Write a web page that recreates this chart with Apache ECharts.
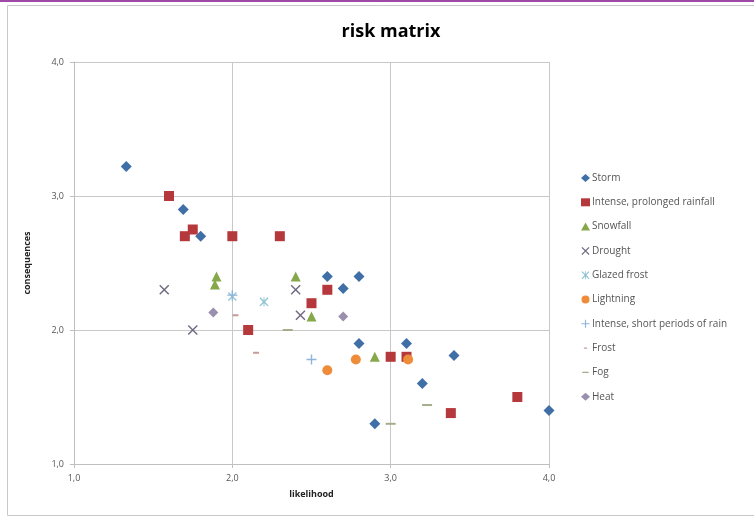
<!DOCTYPE html>
<html><head><meta charset="utf-8">
<script src="https://cdn.jsdelivr.net/npm/echarts@6/dist/echarts.min.js"></script>
<style>html,body{margin:0;padding:0;background:#fff}#c{width:754px;height:524px}</style>
</head><body><div id="c"></div>
<script>
const seriesNames = ['Storm','Intense, prolonged rainfall','Snowfall','Drought','Glazed frost','Lightning','Intense, short periods of rain','Frost','Fog','Heat'];
const storm = [[1.33,3.22],[1.69,2.90],[1.8,2.70],[2.6,2.40],[2.8,2.40],[2.7,2.31],[2.8,1.90],[3.1,1.90],[3.4,1.81],[3.2,1.60],[2.9,1.30],[4.0,1.40]];
const rainfall = [[1.6,3.0],[1.7,2.70],[1.75,2.75],[2.0,2.70],[2.3,2.70],[2.6,2.30],[2.5,2.20],[2.1,2.0],[3.0,1.80],[3.1,1.80],[3.38,1.38],[3.8,1.50]];
const snowfall = [[1.9,2.40],[1.89,2.34],[2.4,2.40],[2.5,2.10],[2.9,1.80]];
const drought = [[1.57,2.30],[1.75,2.0],[2.4,2.30],[2.43,2.11]];
const glazedFrost = [[2.0,2.25],[2.2,2.21]];
const lightning = [[2.6,1.70],[2.78,1.78],[3.11,1.78]];
const intenseShort = [[2.5,1.78],[2.0,2.26]];
const frost = [[2.02,2.11],[2.15,1.83]];
const fog = [[2.35,2.0],[3.23,1.44],[3.0,1.30]];
const heat = [[1.88,2.13],[2.7,2.10]];
const xTicks = [1,2,3,4];
const yTicks = [1,2,3,4];

const X_PATH = 'path://M0,1L1,0L5,4L9,0L10,1L6,5L10,9L9,10L5,6L1,10L0,9L4,5Z';
const STAR_PATH = 'path://M0,1L1,0L4.5,3.5L4.5,0L5.5,0L5.5,3.5L9,0L10,1L6.5,4.5L6.5,5.5L10,9L9,10L5.5,6.5L5.5,10L4.5,10L4.5,6.5L1,10L0,9L3.5,5.5L3.5,4.5Z';
const PLUS_PATH = 'path://M4.3,0L5.7,0L5.7,4.3L10,4.3L10,5.7L5.7,5.7L5.7,10L4.3,10L4.3,5.7L0,5.7L0,4.3L4.3,4.3Z';
const SHORT_DASH_ICON = 'path://M0,0L0.01,0L0,0.01Z M10,10L9.99,10L10,9.99Z M3,4.2L7,4.2L7,5.8L3,5.8Z';
const LONG_DASH_ICON = 'path://M0,0L0.01,0L0,0.01Z M10,10L9.99,10L10,9.99Z M1,4.2L9,4.2L9,5.8L1,5.8Z';

const dataSets = [storm, rainfall, snowfall, drought, glazedFrost, lightning, intenseShort, frost, fog, heat];
const symbols = ['diamond','rect','triangle',X_PATH,STAR_PATH,'circle',PLUS_PATH,'rect','rect','diamond'];
const legendIcons = ['diamond','rect','triangle',X_PATH,STAR_PATH,'circle',PLUS_PATH,SHORT_DASH_ICON,LONG_DASH_ICON,'diamond'];
const sizes = [11,10,10,10,9,10,10,[6,2],[10,2],10];
const colors = ['#3f6fa6','#b5393c','#86a84b','#6f6880','#8fc3d3','#ee8c3a','#8db3de','#c99a9a','#a3ad8c','#9a90ae'];

const chart = echarts.init(document.getElementById('c'));
const fmt = v => v.toFixed(1).replace('.', ',');
chart.setOption({
  animation:false,
  backgroundColor:'#fff',
  title:{text:'risk matrix',left:386,top:18,textAlign:'center',
    textStyle:{fontFamily:'Open Sans',fontSize:18,fontWeight:'bold',color:'#000'}},
  grid:{left:74,right:205,top:62,bottom:60},
  xAxis:{type:'value',min:1,max:4,interval:1,name:'likelihood',nameLocation:'middle',nameGap:26,
    nameTextStyle:{fontFamily:'Open Sans',fontSize:9,fontWeight:'bold',color:'#222'},
    axisLine:{show:true,lineStyle:{color:'#bfbfbf'}},axisTick:{show:true,length:4,lineStyle:{color:'#bfbfbf'}},
    axisLabel:{formatter:fmt,fontFamily:'Open Sans',fontSize:9,color:'#555',margin:10},
    splitLine:{show:true,lineStyle:{color:'#c8c8c8'}}},
  yAxis:{type:'value',min:1,max:4,interval:1,name:'consequences',nameLocation:'middle',nameGap:42,
    nameTextStyle:{fontFamily:'Open Sans',fontSize:9,fontWeight:'bold',color:'#222'},
    axisLine:{show:true,lineStyle:{color:'#bfbfbf'}},axisTick:{show:true,length:4,lineStyle:{color:'#bfbfbf'}},
    axisLabel:{formatter:fmt,fontFamily:'Open Sans',fontSize:9,color:'#555',margin:10},
    splitLine:{show:true,lineStyle:{color:'#c8c8c8'}}},
  legend:{orient:'vertical',left:576,top:168,itemWidth:9,itemHeight:8,itemGap:14.3,
    textStyle:{fontFamily:'Open Sans',fontSize:10,color:'#555',padding:[0,0,0,-3]},
    data:seriesNames.map((n,i)=>({name:n,icon:legendIcons[i]}))},
  graphic:[
    {type:'rect',shape:{x:0,y:0,width:754,height:2},style:{fill:'#a04aa8'},silent:true},
    {type:'rect',shape:{x:7.5,y:5.5,width:760,height:510},style:{fill:'none',stroke:'#c8c8c8',lineWidth:1},silent:true}
  ],
  series: seriesNames.map((n,i)=>({
    name:n,type:'scatter',data:dataSets[i],symbol:symbols[i],symbolSize:sizes[i],
    itemStyle:{color:colors[i],opacity:1}
  }))
});
</script></body></html>
